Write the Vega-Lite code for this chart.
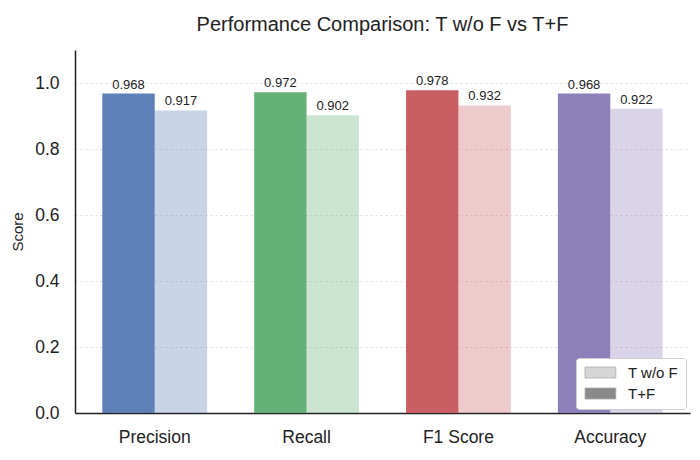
{
  "$schema": "https://vega.github.io/schema/vega-lite/v6.json",
  "width": 615,
  "height": 363,
  "autosize": {"type": "none"},
  "padding": {"left": 75, "top": 50, "right": 10, "bottom": 47},
  "background": "white",
  "config": {
    "font": "Liberation Sans",
    "view": {"stroke": null}
  },
  "title": {
    "text": "Performance Comparison: T w/o F vs T+F",
    "fontSize": 20,
    "fontWeight": "normal",
    "color": "#222",
    "offset": 15,
    "anchor": "middle"
  },
  "data": {
    "values": [
      {"metric": "Precision", "series": "T+F", "value": 0.968},
      {"metric": "Precision", "series": "T w/o F", "value": 0.917},
      {"metric": "Recall", "series": "T+F", "value": 0.972},
      {"metric": "Recall", "series": "T w/o F", "value": 0.902},
      {"metric": "F1 Score", "series": "T+F", "value": 0.978},
      {"metric": "F1 Score", "series": "T w/o F", "value": 0.932},
      {"metric": "Accuracy", "series": "T+F", "value": 0.968},
      {"metric": "Accuracy", "series": "T w/o F", "value": 0.922}
    ]
  },
  "encoding": {
    "x": {
      "field": "metric",
      "type": "nominal",
      "sort": ["Precision", "Recall", "F1 Score", "Accuracy"],
      "scale": {"paddingInner": 0.31, "paddingOuter": 0.18},
      "axis": {
        "title": null,
        "labelAngle": 0,
        "labelFontSize": 17.5,
        "labelColor": "#222",
        "labelPadding": 15,
        "ticks": false,
        "domainColor": "#222",
        "domainWidth": 1.5,
        "grid": false
      }
    },
    "xOffset": {
      "field": "series",
      "type": "nominal",
      "scale": {"domain": ["T+F", "T w/o F"]}
    }
  },
  "layer": [
    {
      "mark": {"type": "bar"},
      "encoding": {
        "y": {
          "field": "value",
          "type": "quantitative",
          "scale": {"domain": [0, 1.1], "nice": false},
          "axis": {
            "title": "Score",
            "titleFontSize": 15,
            "titleFontWeight": "normal",
            "titleColor": "#222",
            "titlePadding": 9,
            "values": [0, 0.2, 0.4, 0.6, 0.8, 1.0],
            "format": ".1f",
            "labelFontSize": 17.5,
            "labelColor": "#222",
            "labelPadding": 16,
            "ticks": false,
            "domainColor": "#222",
            "domainWidth": 1.5,
            "grid": true,
            "gridColor": "#dddddd",
            "gridDash": [2, 3],
            "gridWidth": 1
          }
        },
        "color": {
          "field": "metric",
          "type": "nominal",
          "scale": {
            "domain": ["Precision", "Recall", "F1 Score", "Accuracy"],
            "range": ["#4C72B0", "#55A868", "#C44E52", "#8172B2"]
          },
          "legend": null
        },
        "opacity": {
          "field": "series",
          "type": "nominal",
          "scale": {"domain": ["T+F", "T w/o F"], "range": [0.9, 0.3]},
          "legend": null
        }
      }
    },
    {
      "mark": {"type": "text", "dy": -9, "fontSize": 13, "color": "#222"},
      "encoding": {
        "y": {"field": "value", "type": "quantitative"},
        "text": {"field": "value", "type": "quantitative", "format": ".3f"}
      }
    },
    {
      "mark": {"type": "bar"},
      "encoding": {
        "y": {"datum": 0},
        "color": {
          "field": "series",
          "type": "nominal",
          "scale": {"domain": ["T w/o F", "T+F"], "range": ["#d6d6d6", "#8a8a8a"]},
          "legend": {
            "title": null,
            "orient": "bottom-right",
            "offset": 4,
            "fillColor": "white",
            "strokeColor": "#cccccc",
            "cornerRadius": 3,
            "padding": 7,
            "labelFontSize": 15,
            "labelColor": "#222",
            "symbolType": "M-1,-1L4.6,-1L4.6,1L-1,1Z",
            "symbolSize": 121,
            "symbolStrokeColor": "#aaaaaa",
            "symbolStrokeWidth": 0.8,
            "rowPadding": 5,
            "labelOffset": 30
          }
        }
      }
    }
  ],
  "resolve": {"scale": {"color": "independent"}, "legend": {"color": "independent"}}
}
